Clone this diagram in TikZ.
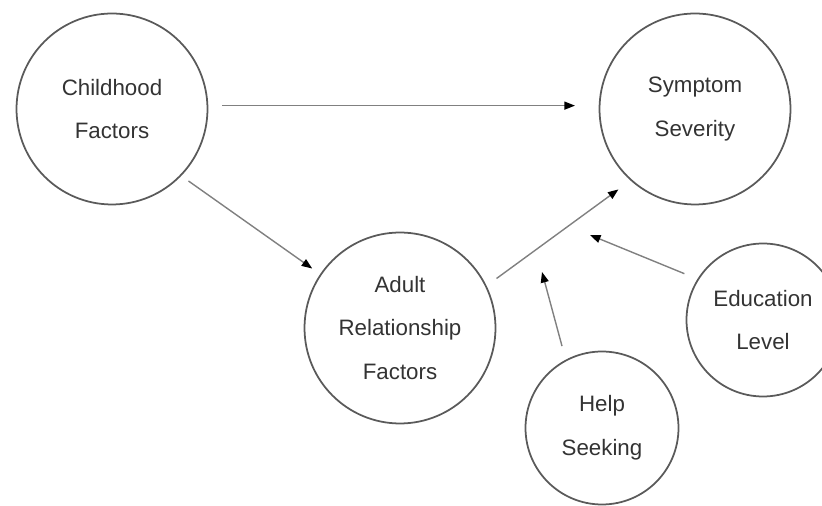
\documentclass[tikz,border=0pt]{standalone}
\usepackage{fontspec}
\setmainfont{Liberation Sans}
\usetikzlibrary{arrows.meta}
\definecolor{ringgray}{HTML}{5A5A5A}
\definecolor{linegray}{HTML}{808080}
\definecolor{textgray}{HTML}{333333}

\begin{document}
\begin{tikzpicture}[x=0.02cm, y=-0.02cm,
    factor/.style={circle, draw=ringgray, line width=1pt, text=textgray, align=center,
        font=\fontsize{12.7}{25}\selectfont, inner sep=0pt},
    bigfactor/.style={factor, minimum size=3.82cm},
    smallfactor/.style={factor, minimum size=3.06cm},
    link/.style={draw=linegray, line width=0.8pt, -{Triangle[length=6pt,width=4.5pt,color=black]}}]
        \clip (0,0) rectangle (822,506);

        \node[bigfactor] (cf) at (112,109) {Childhood\\Factors};
        \node[bigfactor] (ss) at (695,109) {Symptom\\Severity};
        \node[bigfactor] (arf) at (400,328) {Adult\\Relationship\\Factors};
        \node[smallfactor] (el) at (763,320) {Education\\Level};
        \node[smallfactor] (hs) at (602,428) {Help\\Seeking};

        % moderators point at the path, not at a node
        \coordinate (eltip) at (590,235);
        \coordinate (hstip) at (542,272);

        \draw[link, shorten <=8pt, shorten >=13.5pt] (cf.2) -- (ss.178);
        \draw[link, shorten <=5pt, shorten >=5.5pt] (cf.-44) -- (arf.146);
        \draw[link, shorten <=7pt, shorten >=8.5pt] (arf.26) -- (ss.-132);
        \draw[link, shorten <=8pt] (el.148) -- (eltip);
        \draw[link, shorten <=8pt] (hs.118) -- (hstip);
    \end{tikzpicture}
\end{document}
